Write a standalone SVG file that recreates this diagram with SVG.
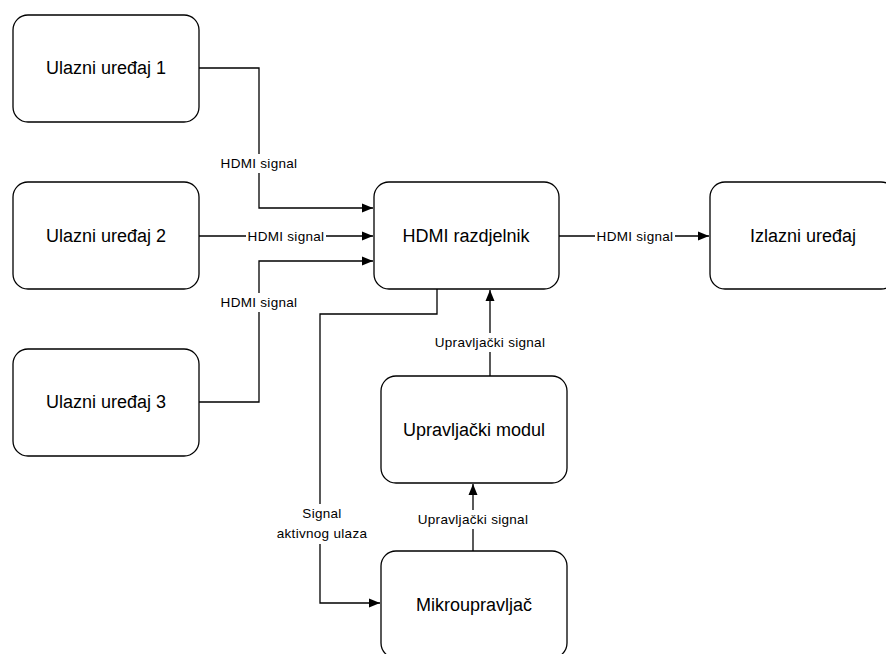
<svg xmlns="http://www.w3.org/2000/svg" width="886" height="654" viewBox="0 0 886 654">
<style>
.box{fill:#fff;stroke:#000;stroke-width:1.3}
.nt{font-family:"Liberation Sans",Arial,sans-serif;font-size:18px;text-anchor:middle;fill:#000}
.lt{font-family:"Liberation Sans",Arial,sans-serif;font-size:13.5px;letter-spacing:0.3px;text-anchor:middle;fill:#000}
.lb{fill:#fff;stroke:none}
.ln{fill:none;stroke:#000;stroke-width:1.3}
</style>
<defs>
<marker id="ah" markerWidth="11" markerHeight="11" refX="11" refY="5.5" orient="auto" markerUnits="userSpaceOnUse">
<path d="M0,1 L11,5.5 L0,10 Z" fill="#000"/>
</marker>
</defs>
<rect x="0" y="0" width="886" height="654" fill="#fff"/>
<g id="connectors">
<polyline class="ln" points="199,68 259,68 259,208 373,208" marker-end="url(#ah)"/>
<polyline class="ln" points="199,236 373,236" marker-end="url(#ah)"/>
<polyline class="ln" points="199,402 259,402 259,261 373,261" marker-end="url(#ah)"/>
<polyline class="ln" points="559,236 709,236" marker-end="url(#ah)"/>
<polyline class="ln" points="437,289 437,314 320,314 320,603 380,603" marker-end="url(#ah)"/>
<polyline class="ln" points="490,376 490,290" marker-end="url(#ah)"/>
<polyline class="ln" points="473,551 473,484" marker-end="url(#ah)"/>
<rect class="lb" x="219" y="154" width="80" height="19"/>
<text class="lt" x="259" y="168">HDMI signal</text>
<rect class="lb" x="246" y="227" width="80" height="19"/>
<text class="lt" x="286" y="241">HDMI signal</text>
<rect class="lb" x="219" y="293" width="80" height="19"/>
<text class="lt" x="259" y="307">HDMI signal</text>
<rect class="lb" x="595" y="227" width="80" height="19"/>
<text class="lt" x="635" y="241">HDMI signal</text>
<rect class="lb" x="433" y="333" width="114" height="19"/>
<text class="lt" x="490" y="347">Upravljački signal</text>
<rect class="lb" x="416" y="510" width="114" height="19"/>
<text class="lt" x="473" y="524">Upravljački signal</text>
<rect class="lb" x="273" y="504" width="98" height="40"/>
<text class="lt" x="322" y="518">Signal</text>
<text class="lt" x="322" y="538">aktivnog ulaza</text>
</g>
<g id="ulazni1"><rect class="box" x="13" y="15" width="186" height="107" rx="15"/><text class="nt" x="106" y="74">Ulazni uređaj 1</text></g>
<g id="ulazni2"><rect class="box" x="13" y="182" width="186" height="107" rx="15"/><text class="nt" x="106" y="242">Ulazni uređaj 2</text></g>
<g id="ulazni3"><rect class="box" x="13" y="349" width="186" height="107" rx="15"/><text class="nt" x="106" y="408">Ulazni uređaj 3</text></g>
<g id="razdjelnik"><rect class="box" x="374" y="182" width="185" height="107" rx="15"/><text class="nt" x="466" y="242">HDMI razdjelnik</text></g>
<g id="izlazni"><rect class="box" x="710" y="182" width="186" height="107" rx="15"/><text class="nt" x="803" y="242">Izlazni uređaj</text></g>
<g id="modul"><rect class="box" x="381" y="376" width="186" height="107" rx="15"/><text class="nt" x="474" y="436">Upravljački modul</text></g>
<g id="mikro"><rect class="box" x="381" y="551" width="186" height="107" rx="15"/><text class="nt" x="474" y="611">Mikroupravljač</text></g>
</svg>
